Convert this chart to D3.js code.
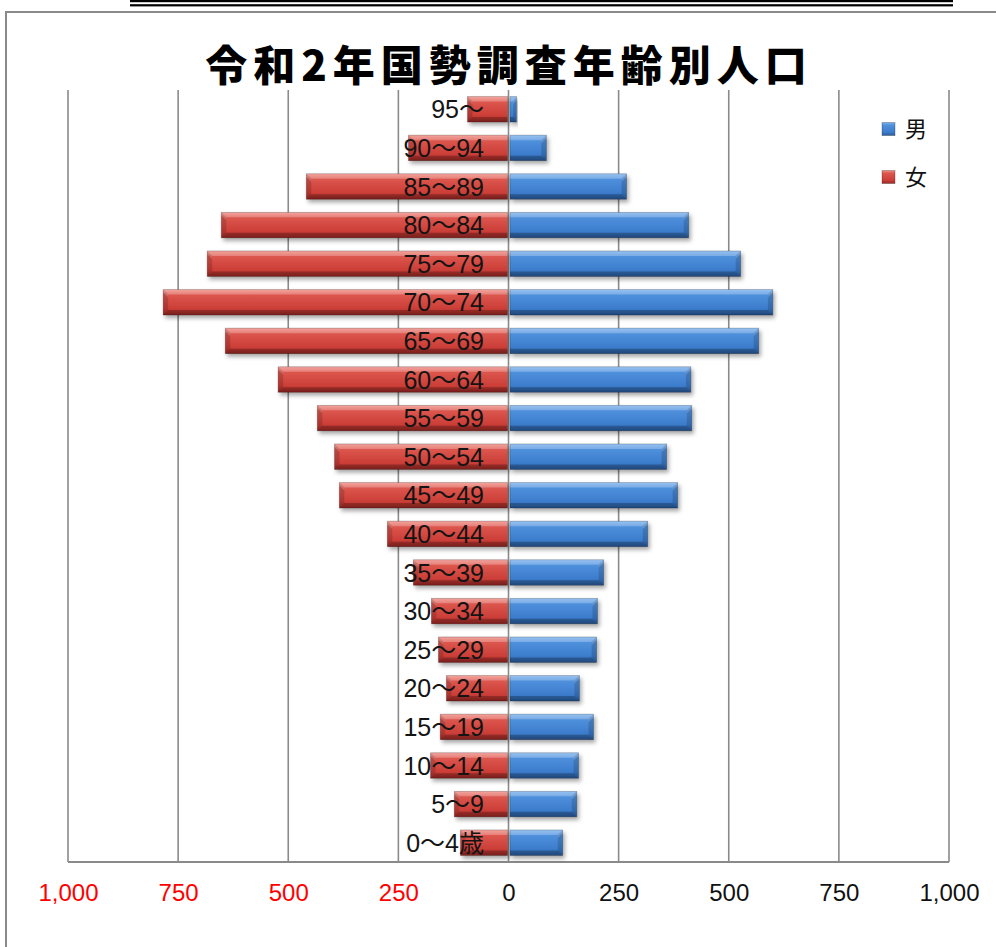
<!DOCTYPE html>
<html>
<head>
<meta charset="utf-8">
<script src="https://cdn.jsdelivr.net/npm/d3@7"></script>
<style>
  html, body { margin: 0; padding: 0; background: #fff; }
  svg { display: block; }
</style>
</head>
<body>
<svg id="chart" width="996" height="947"></svg>
<script>
// ---- data (youngest first) ----
const ageGroups = ["0～4歳","5～9","10～14","15～19","20～24","25～29","30～34","35～39","40～44","45～49",
                   "50～54","55～59","60～64","65～69","70～74","75～79","80～84","85～89","90～94","95～"];
const maleValues   = [123,155,159,193,161,200,202,216,316,384,359,416,414,568,600,527,409,268, 86, 18];
const femaleValues = [109,123,177,155,141,159,175,216,275,384,395,434,523,643,784,684,652,459,227, 93];
const tickValues = [-1000,-750,-500,-250,0,250,500,750,1000];
const seriesNames = ["男","女"];
const titleText = "令和2年国勢調査年齢別人口";

const svg = d3.select("#chart");

// decorative double line & frame
svg.append("rect").attr("x",130).attr("y",0).attr("width",823).attr("height",2.2).attr("fill","#000");
svg.append("rect").attr("x",130).attr("y",4.2).attr("width",823).attr("height",2.2).attr("fill","#000");
svg.append("rect").attr("x",6).attr("y",12).attr("width",1010).attr("height",960)
   .attr("fill","#fff").attr("stroke","#8a8a8a").attr("stroke-width",2);

const defs = svg.append("defs");
const f = defs.append("filter").attr("id","shadow").attr("x","-10%").attr("y","-30%").attr("width","130%").attr("height","180%");
f.append("feDropShadow").attr("dx",2).attr("dy",3).attr("stdDeviation",2).attr("flood-color","#000").attr("flood-opacity",0.35);

function grad(id, stops){
  const g = defs.append("linearGradient").attr("id",id).attr("x1",0).attr("y1",0).attr("x2",0).attr("y2",1);
  stops.forEach(s => g.append("stop").attr("offset",s[0]).attr("stop-color",s[1]));
}
grad("gBlue", [[0,"#78b0ee"],[0.22,"#4f90dc"],[0.75,"#3c7ccc"],[1,"#2a5c9e"]]);
grad("gRed",  [[0,"#f08a80"],[0.22,"#dc564e"],[0.75,"#cb3e37"],[1,"#9c2824"]]);

// scales
const x = d3.scaleLinear().domain([-1000,1000]).range([68,949]);
const y = d3.scaleBand().domain(ageGroups.slice().reverse()).range([90,862]).paddingInner(0.34).paddingOuter(0.17);

// gridlines
svg.append("g").selectAll("line").data(tickValues).join("line")
  .attr("x1",d=>x(d)).attr("x2",d=>x(d)).attr("y1",90).attr("y2",862)
  .attr("stroke","#8a8a8a").attr("stroke-width",1.6);
svg.append("line").attr("x1",x(-1000)).attr("x2",x(1000)).attr("y1",862).attr("y2",862)
  .attr("stroke","#8a8a8a").attr("stroke-width",2);

// bars
const rows = ageGroups.map((a,i)=>({age:a, m:maleValues[i], f:femaleValues[i]}));
const x0 = x(0);
function drawBar(g, xa, xb, yt, h, fillId, dir){
  const b = 5;
  const left = Math.min(xa,xb), w = Math.abs(xb-xa);
  const grp = g.append("g").attr("filter","url(#shadow)");
  grp.append("rect").attr("x",left).attr("y",yt).attr("width",w).attr("height",h).attr("fill",`url(#${fillId})`);
  const yb = yt+h;
  const e = xb - dir*Math.min(b, w/2);
  grp.append("polygon").attr("points",`${xa},${yt} ${xb},${yt} ${e},${yt+b} ${xa},${yt+b}`)
     .attr("fill","#fff").attr("opacity",0.22);
  grp.append("polygon").attr("points",`${xa},${yb} ${xb},${yb} ${e},${yb-b} ${xa},${yb-b}`)
     .attr("fill","#000").attr("opacity",0.22);
  grp.append("polygon").attr("points",`${xb},${yt} ${xb},${yb} ${e},${yb-b} ${e},${yt+b}`)
     .attr("fill","#000").attr("opacity",0.15);
  grp.append("polygon").attr("points",`${xb},${yt} ${e},${yt+b} ${e},${yt+b+3} ${xb},${yt+3}`)
     .attr("fill","#fff").attr("opacity",0.18);
  grp.append("rect").attr("x",left).attr("y",yt).attr("width",w).attr("height",h)
     .attr("fill","none").attr("stroke","#000").attr("stroke-opacity",0.25).attr("stroke-width",0.8);
}
const barG = svg.append("g");
rows.forEach(r=>{
  drawBar(barG, x0-1, x(-r.f), y(r.age), y.bandwidth(), "gRed", -1);
  drawBar(barG, x0+1.5, x(r.m), y(r.age), y.bandwidth(), "gBlue", 1);
});

// category labels
svg.append("g").selectAll("text").data(ageGroups).join("text")
  .attr("x",484).attr("y",d=>y(d)+y.bandwidth()/2).attr("dy","0.36em")
  .attr("text-anchor","end")
  .attr("font-family","'Liberation Sans', 'Noto Sans CJK JP', sans-serif")
  .attr("font-size",25).attr("fill","#141414")
  .text(d=>d);

// x axis labels
const xAxis = d3.axisBottom(x).tickValues(tickValues).tickSize(0).tickPadding(0)
  .tickFormat(d=>d3.format(",")(Math.abs(d)));
const ax = svg.append("g").attr("transform","translate(0,884)").call(xAxis);
ax.select(".domain").remove();
ax.selectAll("text").attr("font-family","'Liberation Sans', sans-serif").attr("font-size",24)
  .attr("dy","0.71em").attr("fill",d=>d<0?"#ff0000":"#111");

// title
svg.append("text").attr("x",509).attr("y",81).attr("text-anchor","middle")
  .attr("font-family","'Noto Sans CJK JP', sans-serif").attr("font-weight",900)
  .attr("font-size",42).attr("letter-spacing","6px").attr("fill","#000")
  .text(titleText);

// legend
const legColors = ["url(#gBlue)","url(#gRed)"];
const leg = svg.append("g");
seriesNames.forEach((n,i)=>{
  const ly = 129 + i*48;
  leg.append("rect").attr("x",882).attr("y",ly-6.5).attr("width",13).attr("height",13)
     .attr("fill",legColors[i]).attr("stroke","#000").attr("stroke-opacity",0.25);
  leg.append("text").attr("x",905).attr("y",ly).attr("dy","0.36em")
     .attr("font-family","'Noto Sans CJK JP', sans-serif").attr("font-size",22).attr("fill","#111")
     .text(n);
});
</script>
</body>
</html>
